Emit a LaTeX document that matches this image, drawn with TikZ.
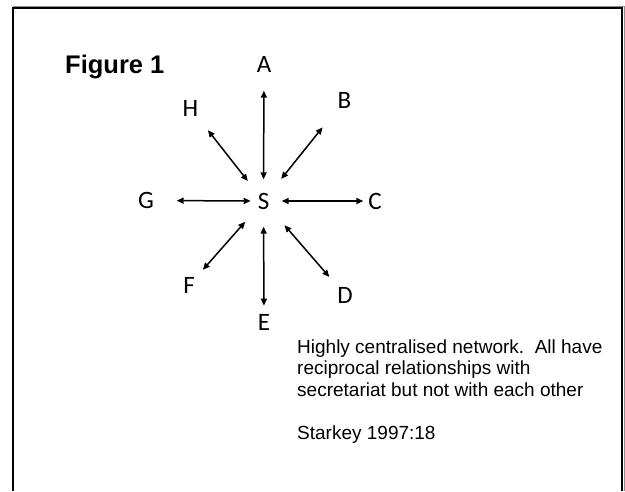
\documentclass[tikz,border=0pt]{standalone}
\usepackage{fontspec}
\setmainfont{Liberation Sans}
\newfontfamily\calibri{Carlito}
\usetikzlibrary{arrows.meta}
\begin{document}
\begin{tikzpicture}[x=1pt,y=-1pt,
  member/.style={font=\calibri\fontsize{25}{25}\selectfont, inner sep=0pt},
  link/.style={line width=1.5pt,
    {Triangle[length=7pt,width=6pt]}-{Triangle[length=7pt,width=6pt]}}]
\useasboundingbox (0,0) rectangle (625,491);
% frame with its shadow
\draw[black!45, line width=1pt] (13,6.9) -- (624.2,6.9) -- (624.2,491);
\draw[line width=1.7pt] (12.8,491) -- (12.8,8.2) -- (622.2,8.2) -- (622.2,491);

\node[font=\bfseries\fontsize{25.5}{25.5}\selectfont, anchor=base west, inner sep=0pt]
  (title) at (65,73) {Figure 1};

% secretariat and members
\node[member] (S) at (263.5,201) {S};
\node[member] (A) at (264,64.5) {A};
\node[member] (B) at (344.5,100) {B};
\node[member] (C) at (375,201) {C};
\node[member] (D) at (345,295) {D};
\node[member] (E) at (264,322.5) {E};
\node[member] (F) at (189,285.5) {F};
\node[member] (G) at (146,200.5) {G};
\node[member] (H) at (190.5,108) {H};

\foreach \m/\ds/\dm in {A/21.7/26.2, B/28.3/35, C/18.2/11.7, D/32/23.9,
                        E/25.7/16.8, F/27.7/20.9, G/12.8/30.7, H/25.4/28.2}
  \draw[link, shorten <=\ds pt, shorten >=\dm pt] (S.center) -- (\m.center);

\node[anchor=north west, align=left, inner sep=0pt,
      font=\fontsize{19}{21.5}\selectfont] (note) at (297,339.5)
  {Highly centralised network.\ \ All have\\
   reciprocal relationships with\\
   secretariat but not with each other\\[21.5pt]
   Starkey 1997:18};
\end{tikzpicture}
\end{document}
